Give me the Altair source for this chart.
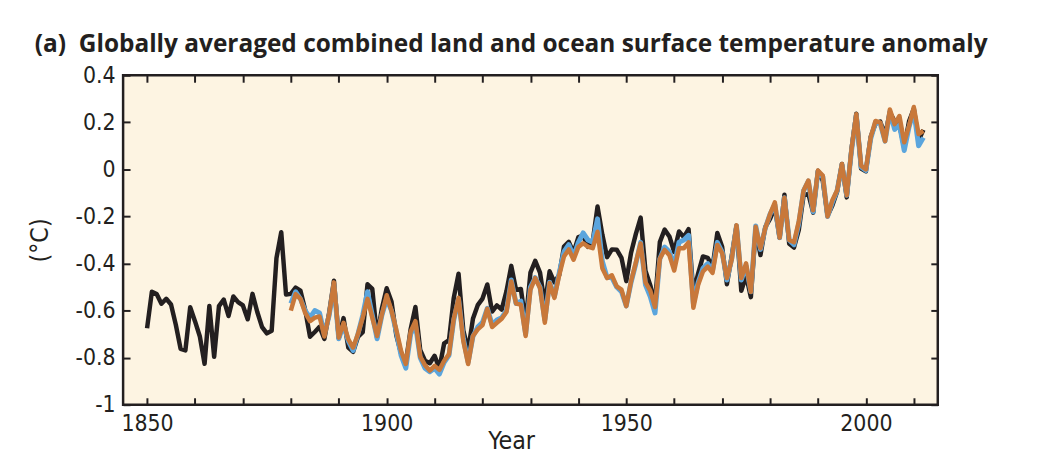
import altair as alt
import pandas as pd

# ---- data ----
years_hadcrut = list(range(1850, 2013))
hadcrut4 = [
    -0.675, -0.520, -0.530, -0.571, -0.550, -0.574, -0.660, -0.763, -0.769, -0.586,
    -0.645, -0.709, -0.826, -0.580, -0.796, -0.581, -0.553, -0.623, -0.540, -0.564,
    -0.578, -0.637, -0.529, -0.606, -0.670, -0.697, -0.686, -0.377, -0.267, -0.532,
    -0.529, -0.502, -0.515, -0.598, -0.711, -0.691, -0.669, -0.720, -0.609, -0.473,
    -0.718, -0.632, -0.757, -0.775, -0.712, -0.692, -0.488, -0.508, -0.714, -0.591,
    -0.505, -0.561, -0.704, -0.781, -0.822, -0.679, -0.585, -0.767, -0.813, -0.824,
    -0.792, -0.846, -0.739, -0.726, -0.546, -0.443, -0.685, -0.770, -0.635, -0.577,
    -0.549, -0.489, -0.604, -0.578, -0.596, -0.517, -0.410, -0.512, -0.508, -0.652,
    -0.439, -0.389, -0.439, -0.575, -0.433, -0.480, -0.449, -0.328, -0.308, -0.354,
    -0.288, -0.282, -0.329, -0.306, -0.158, -0.277, -0.373, -0.340, -0.341, -0.376,
    -0.475, -0.354, -0.274, -0.205, -0.431, -0.492, -0.569, -0.309, -0.256, -0.285,
    -0.351, -0.264, -0.288, -0.254, -0.525, -0.442, -0.370, -0.376, -0.415, -0.270,
    -0.329, -0.488, -0.367, -0.240, -0.516, -0.451, -0.543, -0.255, -0.364, -0.245,
    -0.210, -0.162, -0.291, -0.108, -0.316, -0.332, -0.257, -0.110, -0.104, -0.184,
    -0.006, -0.048, -0.197, -0.154, -0.094, 0.023, -0.119, 0.088, 0.237, 0.004,
    -0.008, 0.139, 0.194, 0.203, 0.145, 0.243, 0.204, 0.189, 0.093, 0.204,
    0.258, 0.123, 0.168,
]

years_other = list(range(1880, 2013))
nasa_giss = [
    -0.57, -0.52, -0.55, -0.60, -0.63, -0.60, -0.61, -0.70, -0.62, -0.49,
    -0.72, -0.66, -0.73, -0.77, -0.70, -0.62, -0.52, -0.62, -0.72, -0.62,
    -0.55, -0.60, -0.69, -0.79, -0.845, -0.70, -0.66, -0.80, -0.845, -0.86,
    -0.845, -0.87, -0.82, -0.79, -0.64, -0.55, -0.72, -0.82, -0.71, -0.67,
    -0.65, -0.59, -0.66, -0.64, -0.63, -0.60, -0.47, -0.57, -0.56, -0.70,
    -0.50, -0.46, -0.50, -0.64, -0.48, -0.54, -0.44, -0.35, -0.32, -0.37,
    -0.31, -0.27, -0.30, -0.31, -0.21, -0.39, -0.46, -0.46, -0.50, -0.52,
    -0.58, -0.48, -0.40, -0.31, -0.49, -0.54, -0.61, -0.38, -0.33, -0.35,
    -0.41, -0.31, -0.30, -0.28, -0.57, -0.48, -0.42, -0.40, -0.43, -0.31,
    -0.35, -0.47, -0.38, -0.24, -0.47, -0.41, -0.52, -0.24, -0.34, -0.25,
    -0.19, -0.15, -0.29, -0.12, -0.30, -0.32, -0.23, -0.09, -0.05, -0.18,
    -0.01, -0.03, -0.20, -0.14, -0.09, 0.02, -0.11, 0.08, 0.23, 0.01,
    -0.005, 0.13, 0.20, 0.195, 0.12, 0.245, 0.17, 0.19, 0.08, 0.18,
    0.25, 0.10, 0.135,
]
noaa_mlost = [
    -0.60, -0.53, -0.55, -0.61, -0.645, -0.63, -0.625, -0.71, -0.615, -0.48,
    -0.715, -0.652, -0.722, -0.757, -0.70, -0.63, -0.55, -0.63, -0.708, -0.617,
    -0.535, -0.60, -0.68, -0.771, -0.827, -0.69, -0.645, -0.795, -0.832, -0.855,
    -0.835, -0.852, -0.813, -0.785, -0.635, -0.546, -0.73, -0.827, -0.708, -0.68,
    -0.662, -0.592, -0.67, -0.652, -0.635, -0.606, -0.476, -0.570, -0.575, -0.708,
    -0.511, -0.462, -0.504, -0.652, -0.483, -0.546, -0.45, -0.37, -0.34, -0.384,
    -0.33, -0.314, -0.328, -0.335, -0.265, -0.42, -0.462, -0.45, -0.497, -0.511,
    -0.581, -0.475, -0.395, -0.315, -0.48, -0.515, -0.585, -0.38, -0.342, -0.365,
    -0.43, -0.335, -0.335, -0.31, -0.588, -0.49, -0.434, -0.413, -0.44, -0.321,
    -0.356, -0.462, -0.384, -0.237, -0.462, -0.399, -0.52, -0.244, -0.335, -0.25,
    -0.19, -0.14, -0.29, -0.12, -0.30, -0.31, -0.22, -0.09, -0.047, -0.174,
    -0.005, -0.026, -0.20, -0.131, -0.089, 0.023, -0.11, 0.086, 0.234, 0.016,
    0.0, 0.136, 0.206, 0.199, 0.12, 0.255, 0.192, 0.227, 0.115, 0.185,
    0.265, 0.15, 0.164,
]

x_ticks = list(range(1850, 2011, 10))
y_ticks = [-1, -0.8, -0.6, -0.4, -0.2, 0, 0.2, 0.4]

df_h = pd.DataFrame({"Year": years_hadcrut, "Anomaly": hadcrut4})
df_g = pd.DataFrame({"Year": years_other, "Anomaly": nasa_giss})
df_n = pd.DataFrame({"Year": years_other, "Anomaly": noaa_mlost})

# ---- style ----
INK = "#231f20"
BLACK = "#231f20"
BLUE = "#5ba5dd"
ORANGE = "#c8783a"
BG = "#fdf4e2"
NARROW = "Liberation Sans Narrow, DejaVu Sans Condensed, Arial Narrow, sans-serif"
W, H = 821, 332

x_scale = alt.Scale(domain=[1845, 2015], nice=False, zero=False)
y_scale = alt.Scale(domain=[-1, 0.4], nice=False, zero=False)

# main labelled axes
x_axis_main = alt.Axis(
    values=x_ticks, format="d",
    labelExpr="datum.value % 50 == 0 ? datum.label : ''",
    ticks=False, tickSize=0, domain=False, grid=False,
    labelFont=NARROW, labelFontSize=23, labelColor=INK, labelPadding=8,
    labelFlush=False, labelOverlap=False,
    title="Year", titleFont=NARROW, titleFontSize=25, titleFontWeight="normal",
    titleColor=INK, titleX=391, titleY=44, titleBaseline="alphabetic",
)
y_axis_main = alt.Axis(
    values=y_ticks, format="~g",
    labelExpr="replace(datum.label, '\u2212', '-')",
    ticks=False, tickSize=0, domain=False, grid=False,
    labelFont=NARROW, labelFontSize=23, labelColor=INK, labelPadding=8,
    labelFlush=False, labelOverlap=False,
    title="(°C)", titleFont=NARROW, titleFontSize=25, titleFontWeight="normal",
    titleColor=INK, titleX=-76, titleY=166, titleAngle=-90,
    titleBaseline="alphabetic", titleAlign="center",
)

# inward tick axes (moved across the plot with a negative offset)
def tick_axis(orient, values, offset):
    return alt.Axis(
        orient=orient, values=values, offset=offset,
        labels=False, ticks=True, tickSize=7, tickWidth=2, tickColor=INK,
        domain=False, grid=False, title=None,
    )

black = alt.Chart(df_h).mark_line(color=BLACK, strokeWidth=4.5, strokeJoin="round").encode(
    x=alt.X("Year:Q", scale=x_scale, axis=x_axis_main),
    y=alt.Y("Anomaly:Q", scale=y_scale, axis=y_axis_main),
)
blue = alt.Chart(df_g).mark_line(color=BLUE, strokeWidth=5, strokeJoin="round").encode(
    x=alt.X("Year:Q", scale=x_scale, axis=tick_axis("top", x_ticks, -H)),
    y=alt.Y("Anomaly:Q", scale=y_scale, axis=tick_axis("right", y_ticks, -W)),
)
orange = alt.Chart(df_n).mark_line(color=ORANGE, strokeWidth=4.5, strokeJoin="round").encode(
    x=alt.X("Year:Q", scale=x_scale, axis=tick_axis("bottom", x_ticks, -H)),
    y=alt.Y("Anomaly:Q", scale=y_scale, axis=tick_axis("left", y_ticks, -W)),
)

chart = (
    alt.layer(black, blue, orange)
    .resolve_axis(x="independent", y="independent")
    .properties(
        width=W, height=H,
        background="white",
        autosize=alt.AutoSizeParams(type="none"),
        padding={"left": 116, "top": 66, "right": 101, "bottom": 63},
        title=alt.TitleParams(
            text="(a)\u00a0\u00a0Globally averaged combined land and ocean surface temperature anomaly",
            anchor="start", frame="group", dx=-89, dy=34, offset=22,
            font="Open Sans", fontSize=24.6, fontWeight="bold", color=INK,
            baseline="alphabetic",
        ),
    )
    .configure_view(fill=BG, stroke=INK, strokeWidth=2.5)
)

chart.save("out.html", embed_options={"renderer": "svg", "actions": False})
